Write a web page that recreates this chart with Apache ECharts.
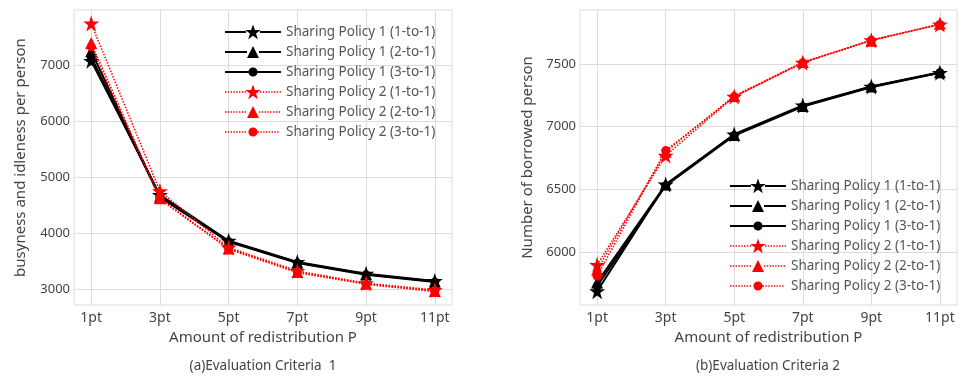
<!DOCTYPE html>
<html>
<head>
<meta charset="utf-8">
<script src="https://cdn.jsdelivr.net/npm/echarts@6/dist/echarts.min.js"></script>
<style>html,body{margin:0;padding:0;background:#fff}#c{width:959px;height:376px}</style>
</head>
<body>
<div id="c"></div>
<script>
const categories = ['1pt', '3pt', '5pt', '7pt', '9pt', '11pt'];
const seriesNames = [
  'Sharing Policy 1 (1-to-1)', 'Sharing Policy 1 (2-to-1)', 'Sharing Policy 1 (3-to-1)',
  'Sharing Policy 2 (1-to-1)', 'Sharing Policy 2 (2-to-1)', 'Sharing Policy 2 (3-to-1)'
];
// (a) Evaluation Criteria 1
const critA_p1_11 = [7080, 4680, 3860, 3480, 3270, 3140];
const critA_p1_21 = [7250, 4650, 3850, 3470, 3260, 3130];
const critA_p1_31 = [7150, 4640, 3840, 3460, 3250, 3120];
const critA_p2_11 = [7750, 4750, 3740, 3320, 3100, 2980];
const critA_p2_21 = [7400, 4620, 3720, 3300, 3090, 2960];
const critA_p2_31 = [7330, 4600, 3710, 3290, 3080, 2950];
// (b) Evaluation Criteria 2
const critB_p1_11 = [5690, 6540, 6940, 7170, 7320, 7430];
const critB_p1_21 = [5760, 6540, 6935, 7165, 7320, 7435];
const critB_p1_31 = [5730, 6530, 6930, 7160, 7315, 7430];
const critB_p2_11 = [5900, 6770, 7240, 7510, 7690, 7815];
const critB_p2_21 = [5860, 6800, 7245, 7515, 7685, 7820];
const critB_p2_31 = [5810, 6810, 7240, 7510, 7690, 7815];
const yTicksA = [3000, 4000, 5000, 6000, 7000];
const yTicksB = [6000, 6500, 7000, 7500];

const xPos = categories.map(c => parseInt(c, 10));
const FONT = '"Noto Sans", "DejaVu Sans", sans-serif';
const TXT = '#444';
const GRIDC = '#dcdcdc';

function xAxisCfg(gi) {
  return {
    type: 'value', gridIndex: gi, min: 0.5, max: 11.5,
    name: 'Amount of redistribution P', nameLocation: 'middle', nameGap: 25,
    nameTextStyle: {fontFamily: FONT, fontSize: 15, color: TXT},
    axisLine: {show: false},
    axisTick: {show: false, customValues: xPos},
    axisLabel: {customValues: xPos, formatter: v => categories[xPos.indexOf(v)] || '', fontFamily: FONT, fontSize: 14, color: TXT, margin: 6},
    splitLine: {show: true, lineStyle: {color: GRIDC, width: 1}}
  };
}
function yAxisCfg(gi, min, max, ticks, name, gap) {
  return {
    type: 'value', gridIndex: gi, min: min, max: max,
    name: name, nameLocation: 'middle', nameGap: gap, nameRotate: 90,
    nameTextStyle: {fontFamily: FONT, fontSize: 15, color: TXT},
    axisLine: {show: false},
    axisTick: {show: false, customValues: ticks},
    axisLabel: {customValues: ticks, formatter: v => String(v), fontFamily: FONT, fontSize: 13, color: TXT, margin: 4},
    splitLine: {show: true, lineStyle: {color: GRIDC, width: 1}}
  };
}

// ---- marker shapes (style only) ----
function starPts(cx, cy, R, r) {
  const p = [];
  for (let k = 0; k < 10; k++) {
    const a = (-90 + 36 * k) * Math.PI / 180, rad = k % 2 ? r : R;
    p.push((cx + rad * Math.cos(a)).toFixed(2) + ',' + (cy + rad * Math.sin(a)).toFixed(2));
  }
  return 'M' + p.join(' L') + ' Z';
}
const starSym = 'path://' + starPts(50, 52, 50, 19.1);
function triPts(cx, cy, s) {
  return 'M' + cx + ',' + (cy - s / 2) + ' L' + (cx + s / 2) + ',' + (cy + s / 2) + ' L' + (cx - s / 2) + ',' + (cy + s / 2) + ' Z';
}
function circPts(cx, cy, r) {
  return 'M' + (cx - r) + ',' + cy + ' A' + r + ' ' + r + ' 0 1 0 ' + (cx + r) + ',' + cy + ' A' + r + ' ' + r + ' 0 1 0 ' + (cx - r) + ',' + cy + ' Z';
}
const LW = 56, LH = 16, CX = 28, CY = 8;
function legendIcon(kind, dotted) {
  let marker, half;
  if (kind === 0) { marker = starPts(CX, CY + 0.6, 8.2, 3.2); half = 7; }
  else if (kind === 1) { marker = triPts(CX, CY, 12); half = 6; }
  else { marker = circPts(CX, CY, 4.6); half = 4.6; }
  let line = '';
  const segs = [[0, CX - half], [CX + half, LW]];
  segs.forEach(([a, b]) => {
    if (!dotted) {
      line += 'M' + a + ',7.1 L' + b + ',7.1 L' + b + ',8.9 L' + a + ',8.9 Z ';
    } else {
      for (let x = a; x + 1.4 <= b; x += 2.8) {
        line += 'M' + x.toFixed(2) + ',7.3 L' + (x + 1.4).toFixed(2) + ',7.3 L' + (x + 1.4).toFixed(2) + ',8.7 L' + x.toFixed(2) + ',8.7 Z ';
      }
    }
  });
  const bbox = 'M0,0 L0.01,0 L0.01,0.01 Z M55.99,15.99 L56,15.99 L56,16 Z ';
  return 'path://' + bbox + line + marker;
}

const symbols = [starSym, 'triangle', 'circle'];
const symSizes = [16, 12, 9];
function mk(name, data, gi, idx) {
  const p2 = idx >= 3;
  const color = p2 ? '#ff0000' : '#000000';
  return {
    type: 'line', name: name, xAxisIndex: gi, yAxisIndex: gi,
    data: data.map((v, i) => [xPos[i], v]),
    symbol: symbols[idx % 3], symbolSize: symSizes[idx % 3],
    itemStyle: {color: color},
    lineStyle: {color: color, width: p2 ? 1.5 : 2, type: p2 ? 'dotted' : 'solid'},
    z: p2 ? 3 : 2,
    animation: false
  };
}
const dataA = [critA_p1_11, critA_p1_21, critA_p1_31, critA_p2_11, critA_p2_21, critA_p2_31];
const dataB = [critB_p1_11, critB_p1_21, critB_p1_31, critB_p2_11, critB_p2_21, critB_p2_31];
const series = [];
dataA.forEach((d, i) => series.push(mk(seriesNames[i], d, 0, i)));
dataB.forEach((d, i) => series.push(mk(seriesNames[i], d, 1, i)));

function legendCfg(left, top) {
  return {
    orient: 'vertical', left: left, top: top,
    itemWidth: LW, itemHeight: LH, itemGap: 4,
    textStyle: {fontFamily: FONT, fontSize: 13.5, color: '#555'},
    data: seriesNames.map((n, i) => ({name: n, icon: legendIcon(i % 3, i >= 3)}))
  };
}

const chart = echarts.init(document.getElementById('c'), null, {renderer: 'canvas'});
chart.setOption({
  animation: false,
  backgroundColor: '#fff',
  grid: [
    {left: 74, top: 10, width: 378, height: 295, show: true, borderColor: GRIDC, borderWidth: 1, containLabel: false},
    {left: 580, top: 10, width: 377, height: 295, show: true, borderColor: GRIDC, borderWidth: 1, containLabel: false}
  ],
  xAxis: [xAxisCfg(0), xAxisCfg(1)],
  yAxis: [
    yAxisCfg(0, 2710, 7990, yTicksA, 'busyness and idleness per person', 46),
    yAxisCfg(1, 5580, 7930, yTicksB, 'Number of borrowed person', 45)
  ],
  legend: [legendCfg(220, 19), legendCfg(725, 173)],
  series: series,
  graphic: [
    {type: 'text', x: 263, y: 366, style: {text: '(a)Evaluation Criteria  1', font: '13.5px ' + FONT, fill: TXT, textAlign: 'center', textVerticalAlign: 'middle'}},
    {type: 'text', x: 768, y: 366, style: {text: '(b)Evaluation Criteria 2', font: '13.5px ' + FONT, fill: TXT, textAlign: 'center', textVerticalAlign: 'middle'}}
  ]
});
</script>
</body>
</html>
